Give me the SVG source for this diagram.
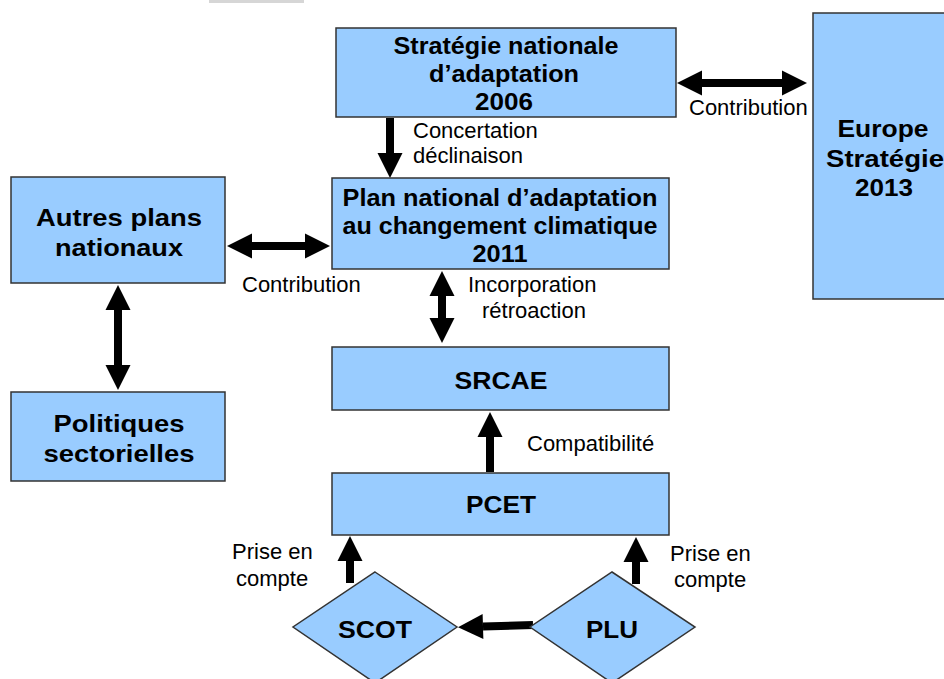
<svg xmlns="http://www.w3.org/2000/svg" width="944" height="679" viewBox="0 0 944 679">
<defs>
<marker id="ah" viewBox="0 -13 25 26" refX="0" refY="0" markerWidth="25" markerHeight="26" markerUnits="userSpaceOnUse" orient="auto-start-reverse" overflow="visible">
<path d="M0,-12.5 L25,0 L0,12.5 z" fill="#000"/>
</marker>
</defs>
<style>
.box{fill:#99ccff;stroke:#333;stroke-width:1.5}
.bt{font-family:"Liberation Sans",Arial,sans-serif;font-weight:bold;font-size:24.5px;fill:#000;text-anchor:middle}
.lt{font-family:"Liberation Sans",Arial,sans-serif;font-size:22px;fill:#000}
.ar{stroke:#000;stroke-width:8;fill:none}
.ae{marker-end:url(#ah)}
.ab{marker-start:url(#ah);marker-end:url(#ah)}
</style>
<rect width="944" height="679" fill="#fff"/>
<rect x="209" y="0" width="95" height="3" fill="#d6d6d6"/>

<g id="connectors">
<line class="ar ab" x1="702" y1="83" x2="782" y2="83"/>
<line class="ar ae" x1="390" y1="118" x2="390" y2="153"/>
<line class="ar ab" x1="252" y1="246" x2="305" y2="246"/>
<line class="ar ab" x1="118" y1="310" x2="118" y2="365"/>
<line class="ar ab" x1="442" y1="296" x2="442" y2="318"/>
<line class="ar ae" x1="490" y1="472" x2="490" y2="437"/>
<line class="ar ae" x1="350" y1="583" x2="350" y2="561"/>
<line class="ar ae" x1="636" y1="584" x2="636" y2="562"/>
<line class="ar ae" x1="533" y1="625" x2="483" y2="626.5"/>
<text class="lt" x="413" y="138">Concertation</text>
<text class="lt" x="413" y="163">déclinaison</text>
<text class="lt" x="689" y="115">Contribution</text>
<text class="lt" x="242" y="292">Contribution</text>
<text class="lt" x="468" y="292">Incorporation</text>
<text class="lt" x="482" y="318">rétroaction</text>
<text class="lt" x="527" y="451">Compatibilité</text>
<text class="lt" x="232" y="559">Prise en</text>
<text class="lt" x="236" y="586">compte</text>
<text class="lt" x="670" y="561">Prise en</text>
<text class="lt" x="674" y="587">compte</text>
</g>

<g id="strategie">
<rect class="box" x="336" y="28" width="340" height="89"/>
<text class="bt" x="506" y="54" textLength="225" lengthAdjust="spacingAndGlyphs">Stratégie nationale</text>
<text class="bt" x="504" y="82" textLength="150" lengthAdjust="spacingAndGlyphs">d’adaptation</text>
<text class="bt" x="504" y="110" textLength="58" lengthAdjust="spacingAndGlyphs">2006</text>
</g>
<g id="europe">
<rect class="box" x="813" y="13" width="140" height="286"/>
<text class="bt" x="883" y="137" textLength="91" lengthAdjust="spacingAndGlyphs">Europe</text>
<text class="bt" x="885" y="167" textLength="118" lengthAdjust="spacingAndGlyphs">Stratégie</text>
<text class="bt" x="884" y="196" textLength="58" lengthAdjust="spacingAndGlyphs">2013</text>
</g>
<g id="plan">
<rect class="box" x="332" y="178" width="337" height="91"/>
<text class="bt" x="500" y="206" textLength="315" lengthAdjust="spacingAndGlyphs">Plan national d’adaptation</text>
<text class="bt" x="500" y="234" textLength="315" lengthAdjust="spacingAndGlyphs">au changement climatique</text>
<text class="bt" x="500" y="262" textLength="55" lengthAdjust="spacingAndGlyphs">2011</text>
</g>
<g id="autres">
<rect class="box" x="11" y="177" width="214" height="106"/>
<text class="bt" x="119" y="226" textLength="166" lengthAdjust="spacingAndGlyphs">Autres plans</text>
<text class="bt" x="119" y="256" textLength="128" lengthAdjust="spacingAndGlyphs">nationaux</text>
</g>
<g id="politiques">
<rect class="box" x="11" y="392" width="214" height="89"/>
<text class="bt" x="119" y="432" textLength="131" lengthAdjust="spacingAndGlyphs">Politiques</text>
<text class="bt" x="119" y="462" textLength="151" lengthAdjust="spacingAndGlyphs">sectorielles</text>
</g>
<g id="srcae">
<rect class="box" x="332" y="347" width="337" height="63"/>
<text class="bt" x="501" y="389" textLength="93" lengthAdjust="spacingAndGlyphs">SRCAE</text>
</g>
<g id="pcet">
<rect class="box" x="332" y="473" width="337" height="62"/>
<text class="bt" x="501" y="513" textLength="70" lengthAdjust="spacingAndGlyphs">PCET</text>
</g>
<g id="scot">
<polygon class="box" points="375,572 457,627 375,683 293,627"/>
<text class="bt" x="375" y="638" textLength="74" lengthAdjust="spacingAndGlyphs">SCOT</text>
</g>
<g id="plu">
<polygon class="box" points="612,572 695,627 612,683 530,627"/>
<text class="bt" x="612" y="638" textLength="52" lengthAdjust="spacingAndGlyphs">PLU</text>
</g>
</svg>
